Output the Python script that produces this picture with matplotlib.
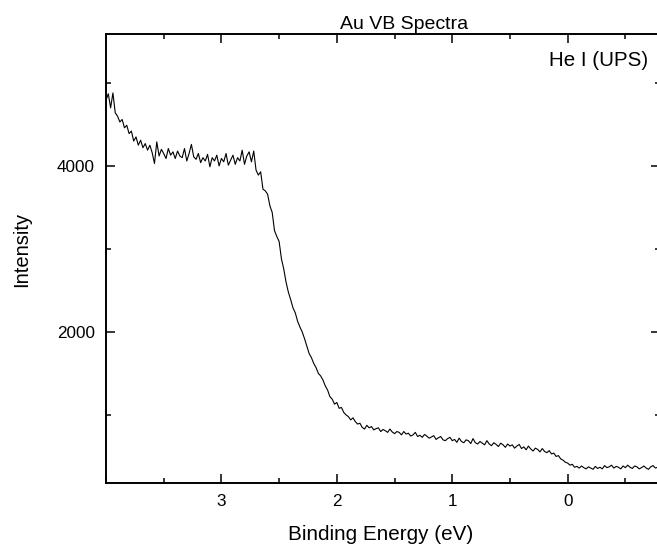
import numpy as np
import matplotlib
matplotlib.use("Agg")
import matplotlib.pyplot as plt
from matplotlib.ticker import MultipleLocator

# ---- data ----
energy_start = 4.00      # eV, first sample
energy_step = 0.02       # eV, spacing between samples (decreasing energy)
intensity = [
    4790, 4870, 4700, 4880, 4640, 4600, 4530, 4560, 4460, 4490,
    4390, 4420, 4300, 4350, 4250, 4310, 4220, 4270, 4190, 4250,
    4160, 4030, 4290, 4120, 4200, 4150, 4090, 4210, 4130, 4170,
    4090, 4180, 4120, 4100, 4210, 4060, 4150, 4260, 4110, 4080,
    4150, 4040, 4100, 4060, 4140, 3990, 4100, 4060, 4130, 4000,
    4090, 4050, 4150, 4010, 4070, 4130, 4020, 4100, 4060, 4190,
    4020, 4120, 4170, 4050, 4180, 3950, 3890, 3930, 3720, 3700,
    3660, 3520, 3440, 3220, 3150, 3090, 2880, 2760, 2600, 2480,
    2390, 2290, 2230, 2130, 2060, 2000, 1920, 1830, 1740, 1690,
    1620, 1570, 1500, 1470, 1420, 1350, 1300, 1220, 1190, 1130,
    1150, 1080, 1090, 1030, 1000, 980, 940, 965, 920, 890,
    900, 850, 830, 875, 845, 860, 820, 835, 845, 800,
    825, 810, 790, 830, 795, 775, 800, 790, 760, 800,
    770, 780, 745, 760, 790, 740, 755, 730, 765, 745,
    720, 735, 750, 705, 725, 740, 700, 690, 715, 730,
    690, 705, 670, 720, 680, 665, 700, 690, 655, 715,
    665, 650, 680, 660, 640, 690, 650, 630, 665, 645,
    620, 660, 640, 610, 650, 625, 640, 600, 625, 645,
    595, 615, 580, 625, 590, 565, 600, 585, 555, 595,
    560, 545, 570, 530, 540, 500, 510, 470, 455, 430,
    420, 395, 405, 370, 380, 360, 385, 365, 350, 375,
    360, 345, 380, 355, 370, 350, 390, 365, 375, 395,
    360, 380, 370, 350, 385, 365, 395, 370, 355, 385,
    375, 350, 365, 385, 360, 345, 375, 390, 360, 370,
    355,
]
x_ticks = [3, 2, 1, 0]
y_ticks = [2000, 4000]
title_text = "Au VB Spectra"
annotation_text = "He I (UPS)"
x_label = "Binding Energy (eV)"
y_label = "Intensity"

energy = energy_start - energy_step * np.arange(len(intensity))

# ---- figure ----
W, H = 657, 548
fig = plt.figure(figsize=(W / 100, H / 100), dpi=100)
plt.rcParams['font.family'] = ['Liberation Sans', 'DejaVu Sans']

ax = fig.add_axes([106 / W, (H - 483) / H, (660 - 106) / W, (483 - 34) / H])
ax.plot(energy, intensity, color='black', lw=0.8)

ax.set_xlim(4.0, -0.8)
ax.set_ylim(180, 5590)
ax.set_xticks(x_ticks)
ax.set_yticks(y_ticks)
ax.xaxis.set_minor_locator(MultipleLocator(0.5))
ax.yaxis.set_minor_locator(MultipleLocator(1000))

for s in ax.spines.values():
    s.set_linewidth(1.4)

ax.tick_params(which='both', direction='in', top=True, right=True,
               labelsize=12.3, width=1.1, pad=8)
ax.tick_params(which='major', length=6.5)
ax.tick_params(which='minor', length=3.6)

fig.text(340 / W, (H - 29.3) / H, title_text, ha='left', va='baseline',
         fontsize=14)
fig.text(648 / W, (H - 66) / H, annotation_text, ha='right', va='baseline',
         fontsize=14.75)
fig.text(380.5 / W, 8 / H, x_label, ha='center', va='baseline',
         fontsize=14.9)
fig.text(12 / W, (H - 249.5) / H, y_label, ha='left', va='center',
         rotation=90, fontsize=14.5)

fig.savefig("out.png", dpi=100)
